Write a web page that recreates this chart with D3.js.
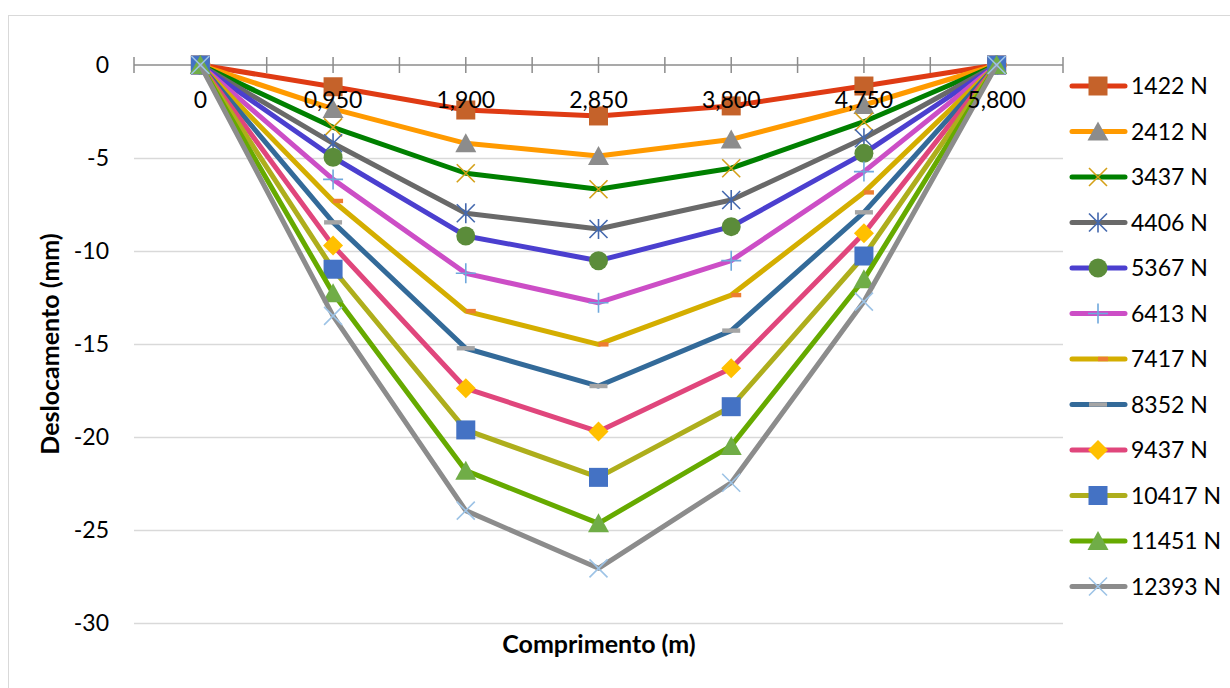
<!DOCTYPE html>
<html>
<head>
<meta charset="utf-8">
<script src="https://cdn.jsdelivr.net/npm/d3@7"></script>
<style>
  html, body { margin: 0; padding: 0; background: #ffffff; }
  svg { display: block; }
  text { font-family: Lato, "Open Sans", sans-serif; fill: #000; }
</style>
</head>
<body>
<svg id="chart" width="1230" height="688"></svg>
<script>
// ---- data ----
const categories = ["0", "0,950", "1,900", "2,850", "3,800", "4,750", "5,800"];
const yTicks = [0, -5, -10, -15, -20, -25, -30];
const seriesNames = ["1422 N", "2412 N", "3437 N", "4406 N", "5367 N", "6413 N",
                     "7417 N", "8352 N", "9437 N", "10417 N", "11451 N", "12393 N"];
const s1422  = [0, -1.17, -2.42, -2.74, -2.20, -1.13, 0];
const s2412  = [0, -2.36, -4.21, -4.89, -4.00, -2.15, 0];
const s3437  = [0, -3.35, -5.82, -6.68, -5.55, -3.05, 0];
const s4406  = [0, -4.21, -7.97, -8.82, -7.26, -3.94, 0];
const s5367  = [0, -4.96, -9.19, -10.52, -8.69, -4.75, 0];
const s6413  = [0, -6.15, -11.20, -12.78, -10.52, -5.73, 0];
const s7417  = [0, -7.31, -13.23, -15.02, -12.37, -6.85, 0];
const s8352  = [0, -8.46, -15.23, -17.26, -14.28, -7.92, 0];
const s9437  = [0, -9.71, -17.38, -19.71, -16.31, -9.05, 0];
const s10417 = [0, -10.98, -19.62, -22.17, -18.37, -10.27, 0];
const s11451 = [0, -12.27, -21.81, -24.64, -20.48, -11.52, 0];
const s12393 = [0, -13.49, -23.96, -27.06, -22.46, -12.72, 0];
const seriesValues = [s1422, s2412, s3437, s4406, s5367, s6413,
                      s7417, s8352, s9437, s10417, s11451, s12393];

// ---- styles ----
const lineColors = ["#DF3B14", "#FF9A00", "#008000", "#696969", "#4B3FCF", "#CC4EC6",
                    "#D4AE00", "#336A99", "#E0467C", "#AEAE1C", "#66AA00", "#8C8C8C"];
const markerColors = ["#C5622A", "#8C8C8C", "#D4A017", "#4468AE", "#5B8C3A", "#6FA8DC",
                      "#ED7D31", "#A5A5A5", "#FFC000", "#4472C4", "#70AD47", "#9DC3E6"];
const markerTypes = ["square", "triangle", "x", "asterisk", "circle", "plus",
                     "dashR", "dash", "diamond", "square", "triangle", "x"];

const svg = d3.select("#chart");

// chart border
svg.append("rect").attr("x", 8.5).attr("y", 15.5).attr("width", 1300).attr("height", 800)
  .attr("fill", "none").attr("stroke", "#D9D9D9").attr("stroke-width", 1);

const plotLeft = 134, plotRight = 1063;
const x = d3.scalePoint().domain(categories).range([plotLeft, plotRight]).padding(0.5);
const y = d3.scaleLinear().domain([-30, 0]).range([623, 65]);

// gridlines
const grid = svg.append("g").attr("transform", `translate(${plotLeft},0)`)
  .call(d3.axisLeft(y).tickValues(yTicks.filter(d => d !== 0)).tickSize(-(plotRight - plotLeft)).tickFormat(""));
grid.select(".domain").remove();
grid.selectAll(".tick line").attr("stroke", "#D9D9D9").attr("stroke-width", 1.5);

// y axis labels
const yAxis = svg.append("g").attr("transform", `translate(${plotLeft},0)`)
  .call(d3.axisLeft(y).tickValues(yTicks).tickSize(0).tickPadding(25).tickFormat(d => String(d)));
yAxis.select(".domain").remove();
yAxis.selectAll(".tick text").attr("font-size", 23).attr("font-family", "Lato, sans-serif").attr("fill", "#000");

// x axis line at 0
const y0 = y(0);
svg.append("line").attr("x1", plotLeft).attr("x2", plotRight).attr("y1", y0).attr("y2", y0)
  .attr("stroke", "#8C8C8C").attr("stroke-width", 1.5);
const step = x.step();
const tickXs = d3.range(0, 15).map(k => plotLeft + k * step / 2);
svg.append("g").selectAll("line").data(tickXs).join("line")
  .attr("x1", d => d).attr("x2", d => d).attr("y1", y0 - 8).attr("y2", y0 + 8)
  .attr("stroke", "#8C8C8C").attr("stroke-width", 1.5);

// axis titles
svg.append("text").attr("x", 599).attr("y", 653).attr("text-anchor", "middle")
  .attr("font-size", 25).attr("font-weight", "bold").text("Comprimento (m)");
svg.append("text").attr("transform", "translate(59,344) rotate(-90)").attr("text-anchor", "middle")
  .attr("font-size", 25).attr("font-weight", "bold").text("Deslocamento (mm)");

// marker drawing
function drawMarker(g, type, cx, cy, color) {
  const s = 9.5;
  if (type === "square") {
    g.append("rect").attr("x", cx - s).attr("y", cy - s).attr("width", 2 * s).attr("height", 2 * s).attr("fill", color);
  } else if (type === "triangle") {
    g.append("path").attr("d", `M${cx},${cy - 10} L${cx + 10.5},${cy + 9} L${cx - 10.5},${cy + 9} Z`).attr("fill", color);
  } else if (type === "circle") {
    g.append("circle").attr("cx", cx).attr("cy", cy).attr("r", 9.5).attr("fill", color);
  } else if (type === "diamond") {
    g.append("path").attr("d", `M${cx},${cy - 10} L${cx + 10},${cy} L${cx},${cy + 10} L${cx - 10},${cy} Z`).attr("fill", color);
  } else if (type === "x" || type === "asterisk" || type === "plus") {
    const p = [];
    if (type !== "plus") { p.push(`M${cx - 9},${cy - 9}L${cx + 9},${cy + 9}`); p.push(`M${cx - 9},${cy + 9}L${cx + 9},${cy - 9}`); }
    if (type === "asterisk" || type === "plus") p.push(`M${cx},${cy - 10}L${cx},${cy + 10}`);
    if (type === "plus") p.push(`M${cx - 10},${cy}L${cx + 10},${cy}`);
    g.append("path").attr("d", p.join("")).attr("fill", "none").attr("stroke", color).attr("stroke-width", 1.6);
  } else if (type === "dash") {
    g.append("rect").attr("x", cx - 9).attr("y", cy - 2.2).attr("width", 18).attr("height", 4.4).attr("fill", color);
  } else if (type === "dashR") {
    g.append("rect").attr("x", cx).attr("y", cy - 2.2).attr("width", 10).attr("height", 4.4).attr("fill", color);
  }
}

const line = d3.line().x((d, i) => x(categories[i])).y(d => y(d));
const plot = svg.append("g");
seriesValues.forEach((vals, si) => {
  const g = plot.append("g");
  g.append("path").attr("d", line(vals)).attr("fill", "none")
    .attr("stroke", lineColors[si]).attr("stroke-width", 5)
    .attr("stroke-linejoin", "round").attr("stroke-linecap", "round");
  vals.forEach((v, i) => drawMarker(g, markerTypes[si], x(categories[i]), y(v), markerColors[si]));
});

// x labels (drawn above the series)
svg.append("g").selectAll("text").data(categories).join("text")
  .attr("x", d => x(d)).attr("y", y0 + 43).attr("text-anchor", "middle")
  .attr("font-size", 23).text(d => d);

// legend
const legend = svg.append("g");
seriesNames.forEach((name, si) => {
  const cy = 86 + si * 45.5;
  const g = legend.append("g");
  g.append("line").attr("x1", 1072).attr("x2", 1125).attr("y1", cy).attr("y2", cy)
    .attr("stroke", lineColors[si]).attr("stroke-width", 5).attr("stroke-linecap", "round");
  drawMarker(g, markerTypes[si], 1098, cy, markerColors[si]);
  g.append("text").attr("x", 1131).attr("y", cy).attr("dy", "0.35em")
    .attr("font-size", 23).text(name);
});
</script>
</body>
</html>
